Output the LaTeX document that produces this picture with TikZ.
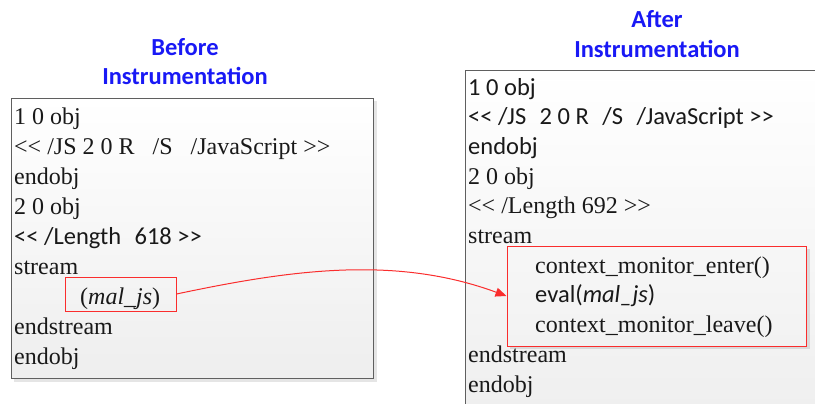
\documentclass[tikz,border=0pt]{standalone}
\usepackage{fontspec}
\usetikzlibrary{arrows.meta}
\setmainfont{Liberation Serif}
\newfontfamily\tnrfont{Liberation Serif}
\newfontfamily\calfont{Carlito}
% literal double angle brackets (kept apart so no guillemet mapping applies)
\newcommand\dlt{<\kern0pt<}
\newcommand\dgt{>\kern0pt>}
% wide gaps standing for doubled spaces
\newcommand\tgap{\hspace{0.75em}}
\newcommand\cgap{\hspace{0.55em}}

\definecolor{titleblue}{RGB}{25,25,245}
\definecolor{hilite}{RGB}{250,45,45}
\definecolor{framegray}{RGB}{95,95,95}
\definecolor{ink}{RGB}{25,25,25}
\definecolor{paperlow}{RGB}{238,238,238}

\begin{document}
\begin{tikzpicture}[x=1bp,y=-1bp,
  title/.style={font=\calfont\bfseries\fontsize{24.5bp}{29bp}\selectfont,
    text=titleblue, anchor=base, inner sep=0},
  codeline/.style={anchor=base west, inner sep=0, text=ink,
    font=\tnrfont\fontsize{24bp}{29bp}\selectfont},
  calline/.style={codeline, font=\calfont\fontsize{24.5bp}{29bp}\selectfont},
  panel/.style={draw=framegray, line width=1bp, top color=white, bottom color=paperlow},
  shade/.style={fill=black, opacity=0.10},
  hlbox/.style={draw=hilite, line width=1bp, inner sep=0}]

\useasboundingbox (0,0) rectangle (815,403);
\clip (0,0) rectangle (815,403);

% ---- headings ----
\node[title] (hb1) at (185,55) {Before};
\node[title] (hb2) at (185,84) {Instrumentation};
\node[title] (ha1) at (657,27) {After};
\node[title] (ha2) at (657,57) {Instrumentation};

% ---- panels ----
\fill[shade] (14,101) rectangle (377,382);
\draw[panel] (11,98) rectangle (373,378);
\draw[panel] (465,70) rectangle (840,430);

% ---- original object ----
\node[codeline] (l1) at (14,124) {1 0 obj};
\node[codeline] (l2) at (14,154) {\dlt{} /JS 2 0 R\tgap/S\tgap/JavaScript \dgt};
\node[codeline] (l3) at (14,184) {endobj};
\node[codeline] (l4) at (14,214) {2 0 obj};
\node[calline]  (l5) at (14,244) {\dlt{} /Length\cgap618 \dgt};
\node[codeline] (l6) at (14,274) {stream};
\node[codeline] (l7) at (80,304) {(\textit{mal\_js})};
\node[codeline] (l8) at (14,334) {endstream};
\node[codeline] (l9) at (14,364) {endobj};
\node[hlbox, minimum width=111bp, minimum height=34bp] (js) at (120.5,294) {};

% ---- instrumented object ----
\node[calline]  (r1)  at (468,95)    {1 0 obj};
\node[calline]  (r2)  at (468,124.7) {\dlt{} /JS\cgap2 0 R\cgap/S\cgap/JavaScript \dgt};
\node[calline]  (r3)  at (468,154.4) {endobj};
\node[codeline] (r4)  at (468,184.1) {2 0 obj};
\node[codeline] (r5)  at (468,213.8) {\dlt{} /Length 692 \dgt};
\node[codeline] (r6)  at (468,243.5) {stream};
\node[codeline] (r7)  at (535,273.2) {context\_monitor\_enter()};
\node[calline]  (r8)  at (535,302.9) {eval(\textit{mal\_js})};
\node[codeline] (r9)  at (535,332.6) {context\_monitor\_leave()};
\node[codeline] (r10) at (468,362.3) {endstream};
\node[codeline] (r11) at (468,392)   {endobj};
% soft edge shadow of the inserted block
\fill[shade] (807,249) rectangle (810,349);
\fill[shade] (510,347) rectangle (807,349);
\node[hlbox, minimum width=299bp, minimum height=100bp] (inst) at (656.5,296) {};

% ---- connector ----
\draw[hilite, line width=1bp, -{Triangle[length=11bp,width=9bp]}]
  (js.east) .. controls (290,270) and (395,255) .. (inst.west);
\end{tikzpicture}
\end{document}
